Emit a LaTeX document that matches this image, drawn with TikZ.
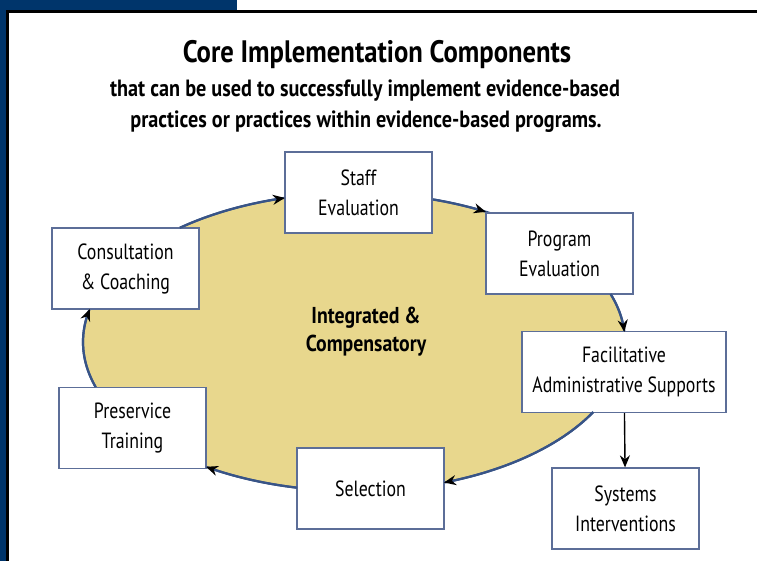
\documentclass[tikz,border=0pt]{standalone}
\usepackage{fontspec}
\setmainfont{PT Sans}[FakeStretch=0.81]
\newfontfamily\headfont{PT Sans}[FakeStretch=0.86]
\usetikzlibrary{arrows.meta,shapes.geometric}
\definecolor{slidenavy}{RGB}{0,53,107}
\definecolor{ovalfill}{RGB}{232,215,141}
\definecolor{ovalline}{RGB}{56,84,135}
\definecolor{boxline}{RGB}{92,110,152}

\begin{document}
\begin{tikzpicture}[x=1pt,y=-1pt,
  comp/.style={draw=boxline, line width=1.2pt, fill=white, align=center, minimum width=147pt, minimum height=81pt, inner sep=2pt, font=\fontsize{22}{30}\selectfont},
  cyc/.style={draw=ovalline, line width=2.2pt, -{Stealth[length=12pt,width=10pt,black]}},
  down/.style={draw=black, line width=1.4pt, -{Stealth[length=12pt,width=10pt]}}]
\useasboundingbox (0,0) rectangle (757,561);
\fill[white] (0,0) rectangle (757,561);
\fill[slidenavy] (0,0) rectangle (237,11);
\fill[slidenavy] (0,0) rectangle (7,561);
\draw[line width=3pt] (757,11.5) -- (7.5,11.5) -- (7.5,561);

\node[anchor=base, font=\headfont\bfseries\fontsize{31}{34}\selectfont] (title) at (377,63) {Core Implementation Components};
\node[anchor=base, font=\headfont\bfseries\fontsize{23.5}{28}\selectfont] (sub1) at (365,97) {that can be used to successfully implement evidence-based};
\node[anchor=base, font=\headfont\bfseries\fontsize{23.5}{28}\selectfont] (sub2) at (366,128) {practices or practices within evidence-based programs.};

\node[ellipse, minimum width=542pt, minimum height=298pt, inner sep=0pt, fill=ovalfill, draw=ovalline, line width=2.2pt] (ell) at (354,342) {};
\node[align=center, font=\headfont\bfseries\fontsize{23}{28}\selectfont] (core) at (366,332) {Integrated \&\\Compensatory};

\node[comp] (cons) at (125.5,268.5) {Consultation\\\& Coaching};
\node[comp] (staff) at (358.5,192.5) {Staff\\Evaluation};
\node[comp] (prog) at (559.5,253.5) {Program\\Evaluation};
\node[comp, minimum width=204pt] (facil) at (624,372) {Facilitative\\Administrative Supports};
\node[comp] (syst) at (625.5,508.5) {Systems\\Interventions};
\node[comp] (sel) at (370.5,488.5) {Selection};
\node[comp] (pres) at (132.5,428) {Preservice\\Training};

\draw[cyc] plot[domain=-130:-104.8, samples=30] ([shift={(\x:271 and 149)}]ell.center);
\draw[cyc] plot[domain=-73:-60.9, samples=20] ([shift={(\x:271 and 149)}]ell.center);
\draw[cyc] plot[domain=-18.8:-3.9, samples=20] ([shift={(\x:271 and 149)}]ell.center);
\draw[cyc] plot[domain=28:70.6, samples=40] ([shift={(\x:271 and 149)}]ell.center);
\draw[cyc] plot[domain=102.1:123.1, samples=25] ([shift={(\x:271 and 149)}]ell.center);
\draw[cyc] plot[domain=162.4:192.8, samples=30] ([shift={(\x:271 and 149)}]ell.center);
\draw[down] (facil) -- (syst);
\end{tikzpicture}
\end{document}
